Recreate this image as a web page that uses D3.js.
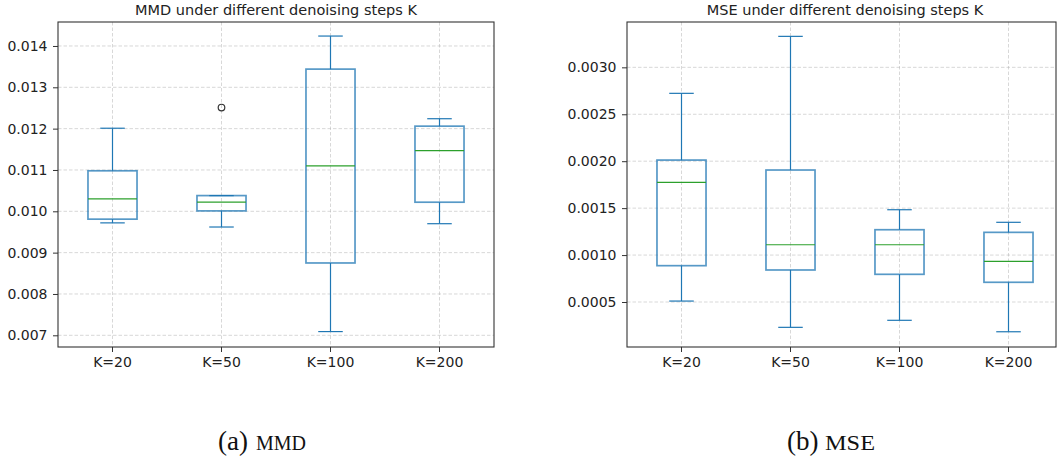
<!DOCTYPE html>
<html>
<head>
<meta charset="utf-8">
<script src="https://cdn.jsdelivr.net/npm/d3@7"></script>
<style>
  body { margin: 0; background: #fff; }
  svg { display: block; }
</style>
</head>
<body>
<div id="chart"></div>
<script>
// box plot summaries
const categories = ["K=20", "K=50", "K=100", "K=200"];

const mmdLow = [0.00972, 0.00962, 0.00709, 0.00970];
const mmdQ1 = [0.00981, 0.01001, 0.00875, 0.01022];
const mmdMedian = [0.01030, 0.01022, 0.01110, 0.01147];
const mmdQ3 = [0.01098, 0.01038, 0.01344, 0.01206];
const mmdHigh = [0.01201, 0.01038, 0.01424, 0.01224];
const mmdOutliers = [[], [0.01251], [], []];
const mmdTicks = [0.007, 0.008, 0.009, 0.010, 0.011, 0.012, 0.013, 0.014];

const mseLow = [0.000510, 0.000230, 0.000305, 0.000183];
const mseQ1 = [0.000887, 0.000841, 0.000795, 0.000710];
const mseMedian = [0.001775, 0.001110, 0.001110, 0.000933];
const mseQ3 = [0.002012, 0.001906, 0.001270, 0.001242];
const mseHigh = [0.002723, 0.003330, 0.001483, 0.001349];
const mseOutliers = [[], [], [], []];
const mseTicks = [0.0005, 0.0010, 0.0015, 0.0020, 0.0025, 0.0030];

const width = 1057, height = 463;
const boxColor = "#1f77b4", medianColor = "#2ca02c";
const font = "'DejaVu Sans', sans-serif";

const svg = d3.select("#chart").append("svg")
    .attr("width", width)
    .attr("height", height);

function drawPanel(opts) {
    const { x0, x1, frameRight, top, bottom, yDomain, ticks, fmt, title } = opts;
    const rows = categories.map((c, i) => ({
        cat: c, low: opts.low[i], q1: opts.q1[i], med: opts.median[i],
        q3: opts.q3[i], high: opts.high[i], out: opts.outliers[i]
    }));

    const xScale = d3.scaleBand().domain(categories).range([x0, x1]);
    const yScale = d3.scaleLinear().domain(yDomain).range([bottom, top]);
    const bw = xScale.bandwidth();
    const cx = d => xScale(d) + bw / 2;
    const boxW = bw * 0.45;
    const capW = boxW / 2;

    const g = svg.append("g");

    // grid
    const grid = g.append("g")
        .attr("stroke", "#b0b0b0")
        .attr("stroke-opacity", 0.55)
        .attr("stroke-width", 0.9)
        .attr("stroke-dasharray", "3.5,2");
    grid.selectAll(".gy").data(ticks).enter().append("line")
        .attr("x1", x0).attr("x2", frameRight)
        .attr("y1", d => yScale(d)).attr("y2", d => yScale(d));
    grid.selectAll(".gx").data(categories).enter().append("line")
        .attr("x1", d => cx(d)).attr("x2", d => cx(d))
        .attr("y1", top).attr("y2", bottom);

    // whiskers
    g.selectAll(".whisk-lo").data(rows).enter().append("line")
        .attr("x1", d => cx(d.cat)).attr("x2", d => cx(d.cat))
        .attr("y1", d => yScale(d.q1)).attr("y2", d => yScale(d.low))
        .attr("stroke", boxColor).attr("stroke-width", 1.2);
    g.selectAll(".whisk-hi").data(rows).enter().append("line")
        .attr("x1", d => cx(d.cat)).attr("x2", d => cx(d.cat))
        .attr("y1", d => yScale(d.q3)).attr("y2", d => yScale(d.high))
        .attr("stroke", boxColor).attr("stroke-width", 1.2);

    // caps
    ["low", "high"].forEach(k => {
        g.selectAll(".cap-" + k).data(rows).enter().append("line")
            .attr("x1", d => cx(d.cat) - capW / 2).attr("x2", d => cx(d.cat) + capW / 2)
            .attr("y1", d => yScale(d[k])).attr("y2", d => yScale(d[k]))
            .attr("stroke", boxColor).attr("stroke-width", 1.2);
    });

    // boxes
    g.selectAll(".box").data(rows).enter().append("rect")
        .attr("x", d => cx(d.cat) - boxW / 2)
        .attr("width", boxW)
        .attr("y", d => yScale(d.q3))
        .attr("height", d => yScale(d.q1) - yScale(d.q3))
        .attr("fill", "none")
        .attr("stroke", boxColor)
        .attr("stroke-opacity", 0.75)
        .attr("stroke-width", 1.7);

    // medians
    g.selectAll(".median").data(rows).enter().append("line")
        .attr("x1", d => cx(d.cat) - boxW / 2).attr("x2", d => cx(d.cat) + boxW / 2)
        .attr("y1", d => yScale(d.med)).attr("y2", d => yScale(d.med))
        .attr("stroke", medianColor).attr("stroke-width", 1.2);

    // fliers
    const fliers = rows.flatMap(d => d.out.map(v => ({ cat: d.cat, v })));
    g.selectAll(".flier").data(fliers).enter().append("circle")
        .attr("cx", d => cx(d.cat)).attr("cy", d => yScale(d.v))
        .attr("r", 3.3)
        .attr("fill", "none").attr("stroke", "#333").attr("stroke-width", 1.2);

    // frame
    g.append("rect")
        .attr("x", x0).attr("y", top)
        .attr("width", frameRight - x0).attr("height", bottom - top)
        .attr("fill", "none").attr("stroke", "#333").attr("stroke-width", 1.1);

    // axes
    const yAxis = g.append("g")
        .attr("transform", `translate(${x0},0)`)
        .call(d3.axisLeft(yScale).tickValues(ticks).tickFormat(d3.format(fmt))
            .tickSize(5).tickPadding(5.5).tickSizeOuter(0));
    const xAxis = g.append("g")
        .attr("transform", `translate(0,${bottom})`)
        .call(d3.axisBottom(xScale).tickSize(5).tickPadding(5).tickSizeOuter(0));
    [yAxis, xAxis].forEach(a => {
        a.select(".domain").remove();
        a.selectAll("line").attr("stroke", "#333");
        a.selectAll("text")
            .style("font-family", font)
            .style("font-size", "14px")
            .attr("fill", "#222");
    });

    // title
    svg.append("text")
        .attr("x", (x0 + x1) / 2)
        .attr("y", 14.5)
        .attr("text-anchor", "middle")
        .style("font-family", font)
        .style("font-size", "14.5px")
        .attr("fill", "#222")
        .text(title);
}

drawPanel({
    x0: 58, x1: 494, frameRight: 494, top: 22, bottom: 347,
    yDomain: [0.006717, 0.01458], ticks: mmdTicks, fmt: ".3f",
    title: "MMD under different denoising steps K",
    low: mmdLow, q1: mmdQ1, median: mmdMedian, q3: mmdQ3, high: mmdHigh, outliers: mmdOutliers
});

drawPanel({
    x0: 627, x1: 1063, frameRight: 1056, top: 22, bottom: 347,
    yDomain: [0.0000206, 0.003483], ticks: mseTicks, fmt: ".4f",
    title: "MSE under different denoising steps K",
    low: mseLow, q1: mseQ1, median: mseMedian, q3: mseQ3, high: mseHigh, outliers: mseOutliers
});

// sub-captions
const captions = [
    { x: 218, label: "(a)", name: "MMD" },
    { x: 787, label: "(b)", name: "MSE" }
];
const cap = svg.selectAll(".caption").data(captions).enter().append("g")
    .attr("class", "caption")
    .style("font-family", "'Liberation Serif', 'Times New Roman', serif")
    .attr("fill", "#111");
cap.append("text")
    .attr("x", d => d.x)
    .attr("y", 450)
    .style("font-size", "27px")
    .text(d => d.label);
cap.append("text")
    .attr("x", d => d.x + 38)
    .attr("y", 450)
    .style("font-size", "21px")
    .attr("textLength", 50)
    .attr("lengthAdjust", "spacingAndGlyphs")
    .text(d => d.name);
</script>
</body>
</html>
